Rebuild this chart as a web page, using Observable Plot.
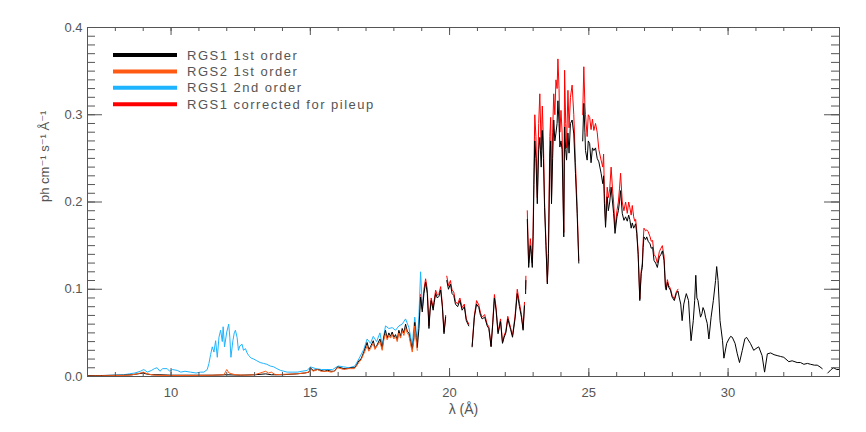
<!DOCTYPE html>
<html>
<head>
<meta charset="utf-8">
<script src="https://cdn.jsdelivr.net/npm/d3@7"></script>
<script src="https://cdn.jsdelivr.net/npm/@observablehq/plot@0.6"></script>
<style>
  html, body { margin: 0; padding: 0; background: #fff; }
  #chart { position: relative; width: 866px; height: 432px; }
  svg text { font-family: "Liberation Sans", "DejaVu Sans", sans-serif; }
</style>
</head>
<body>
<div id="chart"></div>
<script>
// ---- Series: wavelength (Å) and flux (ph cm^-1 s^-1 Å^-1); null = gap ----
const rgs1X = [7.0,7.3,7.6,8.0,8.3,8.6,8.8,9.0,9.1,9.3,9.6,10.0,10.5,11.0,11.5,12.0,12.5,13.0,13.4,13.6,14.0,14.5,14.8,14.95,15.0,15.1,15.26,15.38,15.5,15.62,15.75,15.86,15.98,16.1,16.2,16.34,16.45,16.58,16.66,16.74,16.82,16.92,17.04,17.1,17.16,17.26,17.32,17.38,17.5,17.58,17.64,17.7,17.76,17.82,17.88,17.94,18.0,18.06,18.12,18.18,18.24,18.3,18.36,18.42,18.48,18.54,18.6,18.66,18.72,18.75,18.8,18.84,18.9,18.96,19.02,19.08,19.14,19.2,19.26,19.3,19.34,19.41,19.45,19.5,19.56,19.62,19.68,19.74,19.8,19.86,19.88,19.9,19.96,20.03,20.09,20.15,20.21,20.29,20.37,20.45,20.53,20.6,20.69,20.75,20.81,20.89,20.97,21.05,21.11,21.17,21.26,21.35,21.41,21.49,21.55,21.61,21.67,21.74,21.83,21.9,21.96,22.02,22.09,22.19,22.26,22.35,22.43,22.51,22.58,22.64,22.69,22.71,22.73,22.74,22.76,22.79,22.84,22.9,22.93,22.97,23.0,23.03,23.06,23.1,23.15,23.2,23.24,23.29,23.33,23.37,23.41,23.46,23.51,23.55,23.6,23.63,23.66,23.7,23.74,23.78,23.82,23.86,23.89,23.93,23.96,24.0,24.04,24.1,24.13,24.17,24.2,24.25,24.29,24.34,24.4,24.46,24.52,24.58,24.64,24.7,24.78,24.82,24.86,24.88,24.94,24.98,25.03,25.08,25.13,25.18,25.24,25.3,25.36,25.44,25.5,25.53,25.56,25.6,25.66,25.7,25.75,25.8,25.85,25.89,25.94,26.01,26.06,26.1,26.14,26.2,26.26,26.32,26.38,26.43,26.47,26.52,26.56,26.61,26.65,26.68,26.72,26.77,26.83,26.88,26.92,26.95,26.98,27.04,27.08,27.13,27.2,27.24,27.29,27.34,27.4,27.46,27.53,27.59,27.64,27.7,27.75,27.78,27.82,27.87,27.93,27.99,28.07,28.14,28.2,28.25,28.3,28.35,28.41,28.46,28.5,28.58,28.63,28.67,28.75,28.8,28.84,28.88,28.92,29.01,29.06,29.1,29.15,29.19,29.25,29.31,29.39,29.47,29.55,29.59,29.64,29.71,29.8,29.85,29.95,30.03,30.09,30.15,30.25,30.33,30.41,30.51,30.6,30.66,30.72,30.8,30.92,31.0,31.1,31.22,31.31,31.41,31.53,31.65,31.76,31.88,32.0,32.18,32.3,32.48,32.6,32.72,32.85,32.96,33.1,33.2,33.3,33.38,33.5,33.58,33.61,33.7,33.79,33.9,34.0];
const rgs1Y = [0.001,0.001,0.0012,0.0015,0.0015,0.002,0.003,0.004,0.003,0.002,0.002,0.0015,0.0015,0.0015,0.0015,0.002,0.0015,0.002,0.003,0.002,0.002,0.003,0.004,0.005,0.010,0.007,0.008,0.007,0.006,0.007,0.006,0.006,0.011,0.010,0.009,0.009,0.010,0.010,0.013,0.018,0.020,0.028,0.039,0.031,0.034,0.041,0.033,0.035,0.043,0.032,0.045,0.053,0.044,0.050,0.046,0.051,0.045,0.048,0.042,0.053,0.046,0.055,0.050,0.060,0.052,0.050,0.040,0.031,0.045,0.062,0.045,0.033,0.055,0.091,0.074,0.095,0.108,0.095,0.055,0.075,0.087,0.076,0.085,0.095,0.090,0.092,0.099,0.080,0.049,0.068,null,0.110,0.100,0.106,0.095,0.093,0.083,0.080,0.087,0.076,0.080,0.064,0.058,null,0.034,0.068,0.083,0.079,0.070,0.066,0.068,0.058,0.055,0.034,0.060,0.090,0.076,0.049,0.063,0.038,0.045,0.050,0.066,0.054,0.045,0.066,0.095,0.080,0.068,0.053,0.081,null,0.095,0.110,null,0.180,0.125,0.150,0.140,0.125,0.160,0.220,0.270,0.250,0.198,0.260,0.274,0.240,0.282,0.250,0.194,0.150,0.106,0.141,0.251,0.270,0.198,0.250,0.294,0.270,0.279,0.290,0.316,0.290,0.263,0.270,0.260,0.160,0.286,0.260,0.248,0.279,0.256,0.290,0.294,0.278,0.233,0.187,0.130,null,0.270,0.313,0.280,0.259,0.248,0.270,0.267,0.245,0.262,0.259,0.262,0.250,0.246,0.233,0.221,0.230,0.198,0.171,0.206,0.190,0.200,0.217,0.200,0.187,0.164,0.183,0.190,0.200,0.213,0.187,0.179,0.183,0.178,0.185,0.180,0.170,0.176,0.170,0.173,0.175,0.164,0.140,0.087,0.118,0.125,0.148,0.160,0.157,0.160,0.155,0.152,0.147,0.148,0.133,0.130,0.125,0.137,0.140,0.144,0.133,0.102,0.099,0.108,0.102,0.099,0.091,0.087,0.095,0.098,0.090,0.083,0.064,0.083,0.090,0.095,0.087,0.060,0.041,0.064,0.087,0.116,0.090,0.087,0.068,0.072,0.079,0.075,0.068,0.061,0.043,0.068,0.087,0.110,0.126,0.110,0.064,0.041,0.021,0.038,0.043,0.046,0.045,0.038,0.026,0.016,0.030,0.043,0.045,0.042,0.038,0.030,0.032,0.034,0.024,0.005,0.026,0.027,0.025,0.024,0.023,0.022,0.017,0.018,0.016,0.016,0.014,0.015,0.014,0.013,0.013,0.011,0.009,null,0.004,0.005,0.008,0.010,0.008,0.008];

const rgs2X = [7.0,7.5,8.0,8.5,8.8,9.0,9.15,9.4,10.0,10.5,11.0,11.5,11.9,12.0,12.08,12.3,12.7,13.0,13.3,13.39,13.5,13.6,13.75,14.0,14.5,14.8,14.95,15.0,15.1,15.26,15.38,15.5,15.62,15.75,15.86,15.98,16.1,16.2,16.34,16.45,16.58,16.66,16.74,16.82,16.92,17.04,17.1,17.16,17.26,17.32,17.38,17.5,17.58,17.64,17.7,17.76,17.82,17.88,17.94,18.0,18.06,18.12,18.18,18.24,18.3,18.36,18.42,18.48,18.54,18.6,18.66,18.72,18.75,18.8,18.84];
const rgs2Y = [0.0005,0.0008,0.001,0.0015,0.003,0.005,0.003,0.0015,0.001,0.0012,0.0012,0.0015,0.002,0.008,0.004,0.002,0.0015,0.002,0.005,0.006,0.004,0.005,0.002,0.0025,0.003,0.004,0.005,0.009,0.006,0.008,0.006,0.006,0.006,0.005,0.006,0.010,0.009,0.008,0.009,0.009,0.009,0.012,0.016,0.019,0.026,0.035,0.029,0.032,0.038,0.031,0.034,0.040,0.030,0.042,0.049,0.042,0.047,0.044,0.048,0.043,0.046,0.040,0.050,0.044,0.052,0.047,0.056,0.050,0.047,0.037,0.028,0.042,0.058,0.042,0.030];

const rgs1o2X = [7.0,7.5,8.0,8.29,8.5,8.7,8.9,9.02,9.15,9.3,9.4,9.5,9.6,9.7,9.86,9.95,10.05,10.22,10.35,10.5,10.7,10.9,11.05,11.18,11.3,11.36,11.42,11.48,11.54,11.6,11.66,11.72,11.78,11.84,11.87,11.92,12.0,12.07,12.11,12.15,12.22,12.27,12.31,12.37,12.42,12.47,12.55,12.6,12.67,12.73,12.79,12.88,12.97,13.08,13.2,13.32,13.44,13.56,13.69,13.8,13.93,14.05,14.17,14.35,14.53,14.7,14.89,15.0,15.2,15.4,15.6,15.8,16.0,16.2,16.4,16.6,16.74,16.92,17.04,17.16,17.26,17.38,17.5,17.58,17.7,17.82,17.94,18.06,18.18,18.3,18.42,18.54,18.66,18.75,18.84,18.9,18.96,19.02];
const rgs1o2Y = [0.0005,0.001,0.0015,0.002,0.003,0.004,0.006,0.008,0.005,0.007,0.009,0.010,0.006,0.009,0.009,0.006,0.008,0.007,0.005,0.006,0.005,0.004,0.005,0.005,0.008,0.015,0.025,0.034,0.028,0.041,0.022,0.045,0.053,0.040,0.057,0.034,0.051,0.060,0.045,0.022,0.041,0.050,0.053,0.045,0.030,0.035,0.037,0.030,0.032,0.027,0.024,0.021,0.020,0.018,0.016,0.015,0.014,0.012,0.011,0.009,0.007,0.006,0.005,0.005,0.005,0.006,0.007,0.011,0.009,0.008,0.008,0.008,0.012,0.011,0.010,0.012,0.020,0.031,0.043,0.038,0.046,0.040,0.050,0.036,0.058,0.055,0.056,0.053,0.058,0.060,0.066,0.056,0.036,0.068,0.040,0.070,0.120,0.080];

const corrX = [18.96,19.02,19.08,19.14,19.2,19.26,19.3,19.34,19.41,19.45,19.5,19.56,19.62,19.68,19.74,19.8,19.86,19.88,19.9,19.96,20.03,20.09,20.15,20.21,20.29,20.37,20.45,20.53,20.6,20.69,20.75,20.81,20.89,20.97,21.05,21.11,21.17,21.26,21.35,21.41,21.49,21.55,21.61,21.67,21.74,21.83,21.9,21.96,22.02,22.09,22.19,22.26,22.35,22.43,22.51,22.58,22.64,22.69,22.71,22.73,22.74,22.76,22.79,22.84,22.9,22.93,22.97,23.0,23.03,23.06,23.1,23.15,23.2,23.24,23.29,23.33,23.37,23.41,23.46,23.51,23.55,23.6,23.63,23.66,23.7,23.74,23.78,23.82,23.86,23.89,23.93,23.96,24.0,24.04,24.1,24.13,24.17,24.2,24.25,24.29,24.34,24.4,24.46,24.52,24.58,24.64,24.7,24.78,24.82,24.86,24.88,24.94,24.98,25.03,25.08,25.13,25.18,25.24,25.3,25.36,25.44,25.5,25.53,25.56,25.6,25.66,25.7,25.75,25.8,25.85,25.89,25.94,26.01,26.06,26.1,26.14,26.2,26.26,26.32,26.38,26.43,26.47,26.52,26.56,26.61,26.65,26.68,26.72,26.77,26.83,26.88,26.92,26.95,26.98,27.04,27.08,27.13,27.2,27.24,27.29,27.34,27.4,27.46,27.53,27.59,27.64,27.7,27.75,27.78,27.82,27.87,27.93,27.99,28.07,28.14,28.2];
const corrY = [0.094,0.077,0.100,0.112,0.100,0.058,0.078,0.090,0.079,0.088,0.099,0.093,0.095,0.103,0.083,0.051,0.070,null,0.115,0.104,0.110,0.099,0.097,0.086,0.083,0.090,0.079,0.083,0.066,0.060,null,0.035,0.070,0.087,0.082,0.073,0.068,0.071,0.060,0.057,0.035,0.062,0.094,0.079,0.051,0.066,0.039,0.047,0.052,0.069,0.056,0.047,0.069,0.100,0.084,0.071,0.055,0.085,null,0.100,0.115,null,0.190,0.130,0.158,0.147,0.130,0.170,0.240,0.300,0.275,0.205,0.290,0.324,0.260,0.310,0.270,0.200,0.155,0.108,0.145,0.275,0.297,0.205,0.280,0.324,0.300,0.340,0.330,0.364,0.330,0.280,0.305,0.280,0.165,0.351,0.290,0.262,0.328,0.285,0.320,0.334,0.300,0.245,0.195,0.133,null,0.300,0.355,0.310,0.300,0.275,0.300,0.297,0.283,0.295,0.282,0.290,0.280,0.260,0.248,0.240,0.255,0.210,0.178,0.217,0.205,0.215,0.240,0.215,0.200,0.170,0.190,0.200,0.215,0.233,0.200,0.190,0.200,0.187,0.200,0.194,0.185,0.196,0.183,0.178,0.180,0.168,0.143,0.089,0.121,0.130,0.155,0.170,0.167,0.168,0.166,0.160,0.155,0.156,0.140,0.137,0.130,0.143,0.147,0.150,0.138,0.105,0.101,0.111,0.104,0.101,0.093,0.089,0.097,0.100];

const seriesNames = ["RGS1 1st order", "RGS2 1st order", "RGS1 2nd order", "RGS1 corrected for pileup"];
const seriesColors = ["#000000", "#ff5a14", "#1eb4ff", "#ff0000"];
const xTicksMajor = [10, 15, 20, 25, 30];
const xTicksMinor = d3.range(7, 35, 1);
const yTicksMajor = [0, 0.1, 0.2, 0.3, 0.4];
const yTicksMinor = d3.range(0, 0.401, 0.01);
const xLabel = "λ (Å)";
const yLabel = "ph cm⁻¹ s⁻¹ Å⁻¹";

const toRows = (xs, ys) => xs.map((x, i) => ({x, y: ys[i]}));

const W = 866, H = 432, mL = 87, mR = 27, mT = 27, mB = 56;
const iH = H - mT - mB, iW = W - mL - mR;
const axisColor = "#555";

const plot = Plot.plot({
  width: W, height: H,
  marginLeft: mL, marginRight: mR, marginTop: mT, marginBottom: mB,
  style: {fontSize: "13px", color: axisColor, background: "#fff"},
  x: {domain: [7, 34]},
  y: {domain: [0, 0.4]},
  marks: [
    Plot.line(toRows(corrX, corrY), {x: "x", y: "y", stroke: seriesColors[3], strokeWidth: 1}),
    Plot.line(toRows(rgs1o2X, rgs1o2Y), {x: "x", y: "y", stroke: seriesColors[2], strokeWidth: 1}),
    Plot.line(toRows(rgs1X, rgs1Y), {x: "x", y: "y", stroke: seriesColors[0], strokeWidth: 1}),
    Plot.line(toRows(rgs2X, rgs2Y), {x: "x", y: "y", stroke: seriesColors[1], strokeWidth: 1}),
    Plot.frame({stroke: axisColor}),
    // inward ticks, bottom & top
    Plot.tickX(xTicksMinor, {x: d => d, stroke: axisColor, insetTop: iH - 4}),
    Plot.tickX(xTicksMajor, {x: d => d, stroke: axisColor, insetTop: iH - 8}),
    Plot.tickX(xTicksMinor, {x: d => d, stroke: axisColor, insetBottom: iH - 4}),
    Plot.tickX(xTicksMajor, {x: d => d, stroke: axisColor, insetBottom: iH - 8}),
    // inward ticks, left & right
    Plot.tickY(yTicksMinor, {y: d => d, stroke: axisColor, insetRight: iW - 8}),
    Plot.tickY(yTicksMajor, {y: d => d, stroke: axisColor, insetRight: iW - 15}),
    Plot.tickY(yTicksMinor, {y: d => d, stroke: axisColor, insetLeft: iW - 8}),
    Plot.tickY(yTicksMajor, {y: d => d, stroke: axisColor, insetLeft: iW - 15}),
    Plot.axisX({ticks: xTicksMajor, tickSize: 0, tickPadding: 11, tickFormat: d => String(d), label: null, fill: axisColor}),
    Plot.axisY({ticks: yTicksMajor, tickSize: 0, tickPadding: 5, tickFormat: d3.format(".1f"), label: null, fill: axisColor}),
    Plot.text([xLabel], {frameAnchor: "bottom", dy: 37, fill: axisColor, fontSize: 14}),
    Plot.text([yLabel], {frameAnchor: "left", rotate: -90, dx: -43, fill: axisColor, fontSize: 13})
  ]
});

document.getElementById("chart").appendChild(plot);

// Legend inside plot area (top-left)
const svg = d3.select(plot);
const lg = svg.append("g").attr("class", "legend").attr("text-anchor", "start");
seriesNames.forEach((name, i) => {
  const yy = 55 + i * 16.4;
  lg.append("line").attr("x1", 113).attr("x2", 177).attr("y1", yy).attr("y2", yy)
    .attr("stroke", seriesColors[i]).attr("stroke-width", 4);
  lg.append("text").attr("x", 187).attr("y", yy + 4.5).text(name)
    .attr("text-anchor", "start")
    .attr("fill", axisColor).attr("font-size", 13).attr("letter-spacing", "1.5px");
});
</script>
</body>
</html>
